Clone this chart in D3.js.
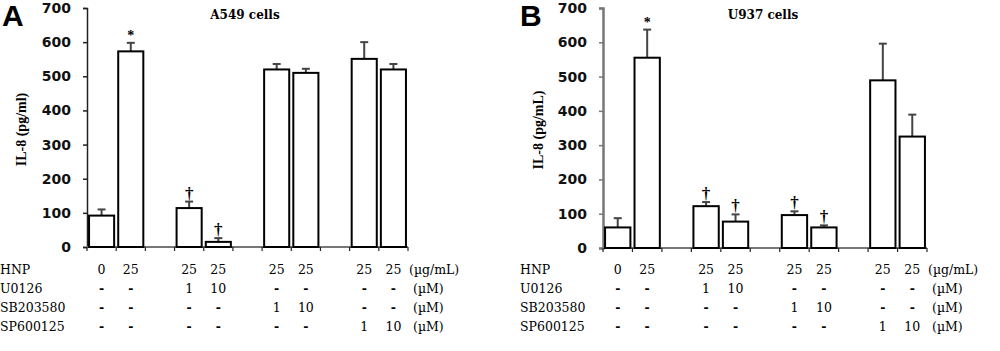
<!DOCTYPE html>
<html>
<head>
<meta charset="utf-8">
<script src="https://cdn.jsdelivr.net/npm/d3@7"></script>
<style>
  html, body { margin: 0; padding: 0; background: #fff; }
  svg { display: block; }
</style>
</head>
<body>
<svg id="chart" width="1000" height="351"></svg>
<script>
// ---- data ----
const categories = ["HNP0", "HNP25", "gap1", "U1", "U10", "gap2", "SB1", "SB10", "gap3", "SP1", "SP10"];
const barCats = ["HNP0", "HNP25", "U1", "U10", "SB1", "SB10", "SP1", "SP10"];

const a549Means = [92, 573, 114, 15, 520, 510, 551, 520];
const a549Errors = [18, 25, 19, 11, 16, 12, 49, 16];
const a549Marks = ["", "*", "†", "†", "", "", "", ""];

const u937Means = [60, 555, 122, 77, 96, 60, 489, 325];
const u937Errors = [27, 82, 12, 21, 11, 6, 107, 64];
const u937Marks = ["", "*", "†", "†", "†", "†", "", ""];

const yTicks = [0, 100, 200, 300, 400, 500, 600, 700];

const rowLabels = ["HNP", "U0126", "SB203580", "SP600125"];
const rowUnits = ["(µg/mL)", "(µM)", "(µM)", "(µM)"];
const hnpRow = ["0", "25", "25", "25", "25", "25", "25", "25"];
const u0126Row = ["-", "-", "1", "10", "-", "-", "-", "-"];
const sb203580Row = ["-", "-", "-", "-", "1", "10", "-", "-"];
const sp600125Row = ["-", "-", "-", "-", "-", "-", "1", "10"];
const tableRows = [hnpRow, u0126Row, sb203580Row, sp600125Row];

const panels = [
  { letter: "A", title: "A549 cells", yTitle: "IL-8 (pg/ml)", means: a549Means, errors: a549Errors, marks: a549Marks,
    x0: 87, x1: 408, yTop: 8, yBase: 247, letterX: 2, titleX: 245, yTitleX: 21, labelX: 0, yAxisColor: "#222", yAxisWidth: 1.5 },
  { letter: "B", title: "U937 cells", yTitle: "IL-8 (pg/mL)", means: u937Means, errors: u937Errors, marks: u937Marks,
    x0: 603, x1: 927, yTop: 8, yBase: 248, letterX: 520, titleX: 763, yTitleX: 538, labelX: 520, yAxisColor: "#777", yAxisWidth: 2.5 }
];

const svg = d3.select("#chart");
const serif = "'DejaVu Serif', serif";
const sans = "'DejaVu Sans', sans-serif";

panels.forEach(p => {
  const g = svg.append("g");
  const x = d3.scaleBand().domain(categories).range([p.x0, p.x1]).paddingInner(0.14).paddingOuter(0.07);
  const xb = d3.scaleBand().domain(categories).range([p.x0, p.x1]);
  const y = d3.scaleLinear().domain([0, 700]).range([p.yBase, p.yTop]);

  // panel letter
  g.append("text").attr("x", p.letterX).attr("y", 26)
    .attr("font-family", "'Liberation Sans', Arial, sans-serif").attr("font-weight", "bold")
    .attr("font-size", 30).attr("fill", "#000").text(p.letter);

  // title
  g.append("text").attr("x", p.titleX).attr("y", 19).attr("text-anchor", "middle")
    .attr("font-family", serif).attr("font-weight", "bold").attr("font-size", 12)
    .attr("fill", "#000").text(p.title);

  // y axis title
  g.append("text")
    .attr("transform", `translate(${p.yTitleX},${(p.yTop + p.yBase) / 2 + 2}) rotate(-90)`)
    .attr("text-anchor", "middle").attr("dy", "0.35em")
    .attr("font-family", "'Liberation Serif', serif").attr("font-weight", "bold").attr("font-size", 14)
    .attr("fill", "#000").text(p.yTitle);

  // y axis
  const yAxis = d3.axisLeft(y).tickValues(yTicks).tickSize(4).tickPadding(12).tickFormat(d3.format("d"));
  const ya = g.append("g").attr("transform", `translate(${p.x0},0)`).call(yAxis);
  ya.select(".domain").attr("stroke", p.yAxisColor).attr("stroke-width", p.yAxisWidth);
  ya.selectAll(".tick line").attr("stroke", p.yAxisColor).attr("stroke-width", 1.5);
  ya.selectAll(".tick text").attr("font-family", sans).attr("font-size", 14)
    .attr("font-weight", 600).attr("fill", "#111");

  // x baseline with ticks at band boundaries
  const bounds = categories.map(c => xb(c)).concat([p.x1]);
  g.append("line").attr("x1", p.x0).attr("x2", p.x1).attr("y1", p.yBase).attr("y2", p.yBase)
    .attr("stroke", "#777").attr("stroke-width", 2);
  g.selectAll(".xt").data(bounds).enter().append("line")
    .attr("x1", d => d).attr("x2", d => d).attr("y1", p.yBase).attr("y2", p.yBase + 4)
    .attr("stroke", "#222").attr("stroke-width", 1.2);

  const bars = barCats.map((c, i) => ({ c, v: p.means[i], e: p.errors[i], m: p.marks[i] }));
  const cx = d => x(d.c) + x.bandwidth() / 2;

  // error bars (upper only)
  g.selectAll(".err").data(bars).enter().append("line")
    .attr("x1", cx).attr("x2", cx).attr("y1", d => y(d.v)).attr("y2", d => y(d.v + d.e))
    .attr("stroke", "#444").attr("stroke-width", 2);
  g.selectAll(".cap").data(bars).enter().append("line")
    .attr("x1", d => cx(d) - 4).attr("x2", d => cx(d) + 4)
    .attr("y1", d => y(d.v + d.e)).attr("y2", d => y(d.v + d.e))
    .attr("stroke", "#444").attr("stroke-width", 2);

  // bars
  g.selectAll(".bar").data(bars).enter().append("rect")
    .attr("x", d => x(d.c)).attr("width", x.bandwidth())
    .attr("y", d => y(d.v)).attr("height", d => p.yBase - y(d.v))
    .attr("fill", "#fff").attr("stroke", "#000").attr("stroke-width", 2);

  // significance marks
  g.selectAll(".mark").data(bars.filter(d => d.m)).enter().append("text")
    .attr("x", cx).attr("y", d => y(d.v + d.e) - 3)
    .attr("text-anchor", "middle")
    .attr("font-family", "'Liberation Serif', serif").attr("font-weight", "bold")
    .attr("font-size", d => d.m === "*" ? 14 : 17).attr("fill", "#000").text(d => d.m);

  // table below
  const rowY = [274, 293, 312, 331];
  rowLabels.forEach((lab, r) => {
    g.append("text").attr("x", p.labelX).attr("y", rowY[r])
      .attr("font-family", serif).attr("font-size", 12.5).attr("fill", "#000").text(lab);
    g.selectAll(".cell" + r).data(tableRows[r]).enter().append("text")
      .attr("x", (d, i) => x(barCats[i]) + x.bandwidth() / 2).attr("y", rowY[r])
      .attr("text-anchor", "middle")
      .attr("font-family", serif).attr("font-size", 12.5)
      .attr("font-weight", d => d === "-" ? "bold" : "normal")
      .attr("fill", "#000").text(d => d);
    g.append("text").attr("x", p.x1 + (r === 0 ? 1 : 5)).attr("y", rowY[r])
      .attr("font-family", serif).attr("font-size", 12.5).attr("fill", "#000").text(rowUnits[r]);
  });
});
</script>
</body>
</html>
